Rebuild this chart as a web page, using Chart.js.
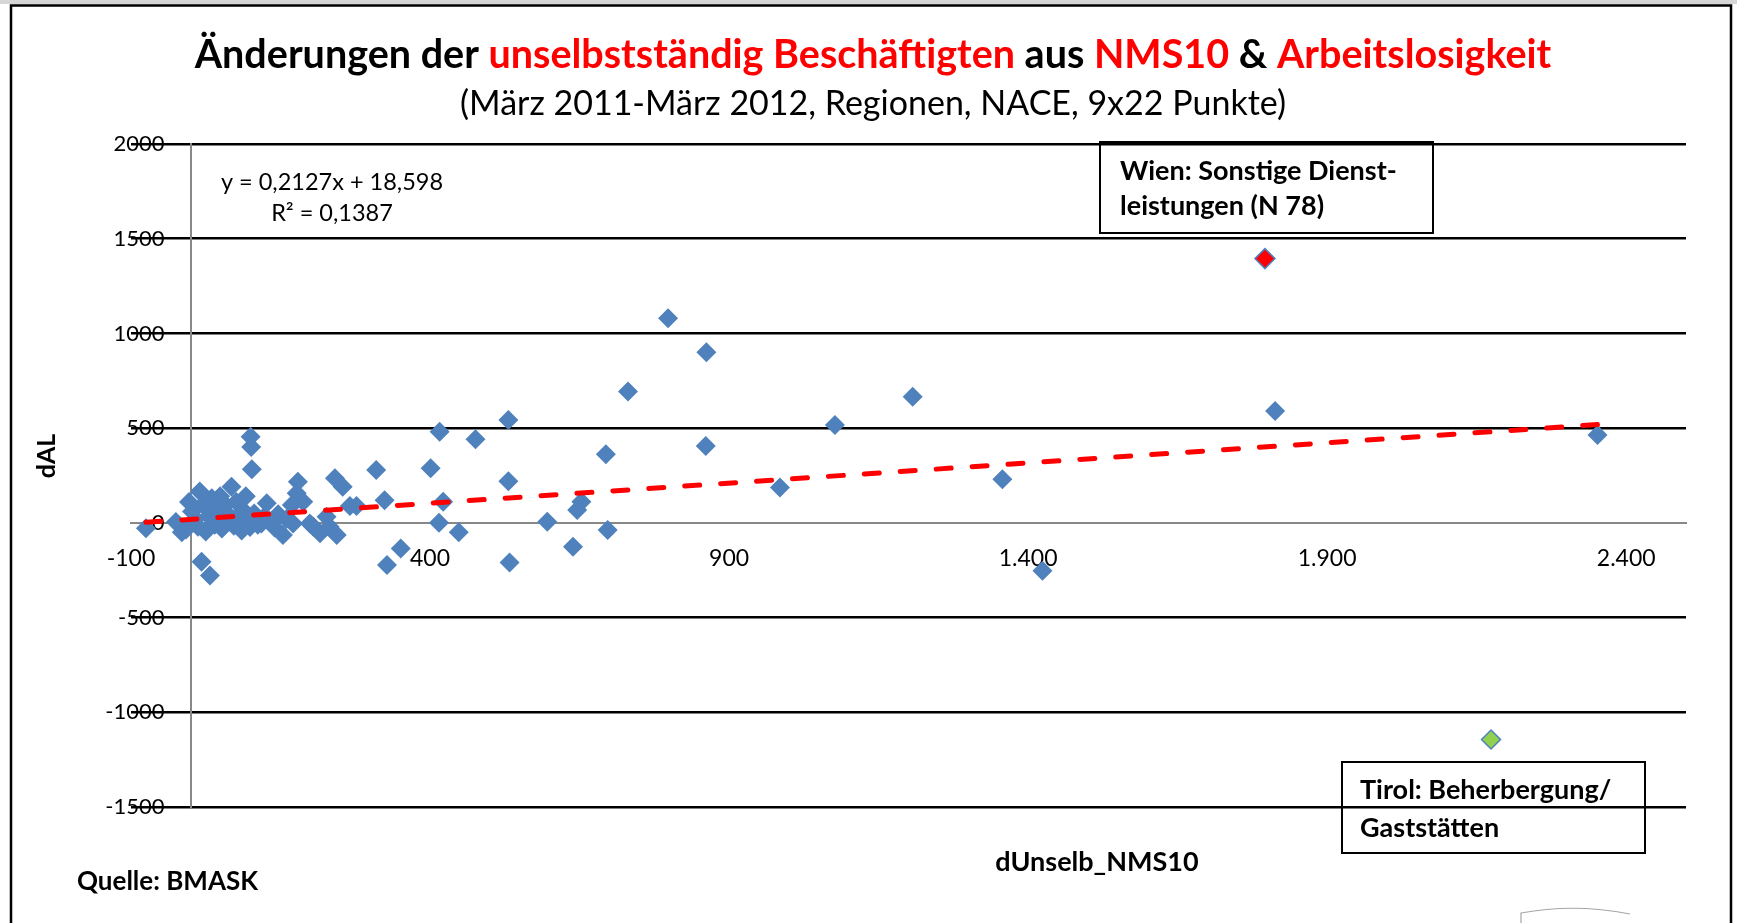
<!DOCTYPE html>
<html>
<head>
<meta charset="utf-8">
<script src="https://cdn.jsdelivr.net/npm/chart.js@4"></script>
<style>
    html, body { margin: 0; padding: 0; background: #fff; }
    #wrap { width: 1737px; height: 923px; }
</style>
</head>
<body>
<div id="wrap"><canvas id="scatter-chart"></canvas></div>
<script>
// dUnselb_NMS10 (x) and dAL (y) per region / NACE section
const dUnselb = [-75, -25, -15, -8, -3, 2, 8, 12, 15, 18, 20, 25, 30, 32, 35, 40, 45, 49, 52, 55,
    58, 62, 68, 72, 76, 80, 85, 88, 92, 95, 99, 100, 101, 102, 106, 112, 118, 122, 127, 132,
    140, 146, 154, 160, 169, 171, 177, 179, 188, 199, 205, 216, 227, 232, 241, 244, 254, 266, 277, 310,
    324, 328, 351, 401, 415, 416, 422, 448, 476, 531, 531, 533, 596, 639, 646, 653, 694, 697, 731, 798,
    861, 862, 985, 1077, 1207, 1357, 1424, 1813, 2352];
const dAL = [-28, 5, -50, -35, 110, 60, 20, -20, 165, -205, 95, -45, 35, -278, 130, -10, 70, 140, -30, 15,
    95, 45, 190, -15, 110, 25, -40, 65, 140, 5, -22, 455, 400, 283, 50, -10, -3, 30, 103, 10,
    -25, 45, -64, 20, 94, -3, 156, 217, 112, -3, -20, -55, 32, -20, 235, -64, 191, 89, 89, 279,
    120, -223, -135, 288, 0, 481, 111, -50, 441, 543, 219, -209, 6, -126, 68, 111, 362, -38, 693, 1080,
    406, 901, 187, 517, 666, 230, -253, 591, 464];

// highlighted points
const wienX = [1796];
const wienY = [1395];
const tirolX = [2174];
const tirolY = [-1144];

// linear trend as printed in the chart
const trendSlope = 0.2127;
const trendIntercept = 18.598;
const trendRange = [-75, 2352];

const xTicks = [-100, 400, 900, 1400, 1900, 2400];
const yTicks = [-1500, -1000, -500, 0, 500, 1000, 1500, 2000];

const RED = '#ff0000';
const BLUE = '#4f81bd';
const FONT = 'Lato, "Open Sans", sans-serif';

const toPoints = (xs, ys) => xs.map((x, i) => ({x: x, y: ys[i]}));

const decor = {
    id: 'decor',
    beforeDraw(chart) {
        const ctx = chart.ctx;
        ctx.save();
        ctx.fillStyle = '#fff';
        ctx.fillRect(0, 0, chart.width, chart.height);
        ctx.fillStyle = '#d6d6d6';
        ctx.fillRect(0, 0, chart.width, 4);
        ctx.strokeStyle = '#000';
        ctx.lineWidth = 2.5;
        ctx.beginPath();
        ctx.moveTo(11, chart.height);
        ctx.lineTo(11, 5.5);
        ctx.lineTo(1731, 5.5);
        ctx.lineTo(1731, chart.height);
        ctx.stroke();

        // stray pencil mark bottom right
        ctx.strokeStyle = '#a6a6a6';
        ctx.lineWidth = 1.2;
        ctx.beginPath();
        ctx.moveTo(1521, 923);
        ctx.lineTo(1521, 913);
        ctx.quadraticCurveTo(1575, 903, 1630, 914);
        ctx.stroke();
        ctx.restore();
    },
    afterDraw(chart) {
        const ctx = chart.ctx;
        ctx.save();

        // title in mixed colours
        const parts = [
            ['Änderungen der ', '#000'],
            ['unselbstständig Beschäftigten', RED],
            [' aus ', '#000'],
            ['NMS10', RED],
            [' & ', '#000'],
            ['Arbeitslosigkeit', RED]
        ];
        ctx.font = 'bold 39.5px ' + FONT;
        ctx.textBaseline = 'alphabetic';
        ctx.textAlign = 'left';
        const total = parts.reduce((s, p) => s + ctx.measureText(p[0]).width, 0);
        let x = 873 - total / 2;
        parts.forEach(p => {
            ctx.fillStyle = p[1];
            ctx.fillText(p[0], x, 68);
            x += ctx.measureText(p[0]).width;
        });

        ctx.fillStyle = '#000';
        ctx.textAlign = 'center';
        ctx.font = '34px ' + FONT;
        ctx.fillText('(März 2011-März 2012, Regionen, NACE, 9x22 Punkte)', 873, 115);

        // trend equation
        ctx.font = '23.5px ' + FONT;
        ctx.textBaseline = 'middle';
        ctx.fillText('y = 0,2127x + 18,598', 332, 182);
        ctx.fillText('R² = 0,1387', 332, 213);

        // axis titles
        ctx.font = 'bold 27px ' + FONT;
        ctx.fillText('dUnselb_NMS10', 1097, 862);
        ctx.save();
        ctx.translate(47, 456);
        ctx.rotate(-Math.PI / 2);
        ctx.font = 'bold 25px ' + FONT;
        ctx.fillText('dAL', 0, 0);
        ctx.restore();

        ctx.textAlign = 'left';
        ctx.font = 'bold 26px ' + FONT;
        ctx.fillText('Quelle: BMASK', 77, 882);

        // annotation boxes
        ctx.strokeStyle = '#000';
        ctx.lineWidth = 2;
        ctx.strokeRect(1100, 142, 333, 91);
        ctx.strokeRect(1342, 762, 303, 91);
        ctx.font = 'bold 27px ' + FONT;
        ctx.fillText('Wien: Sonstige Dienst-', 1120, 171);
        ctx.fillText('leistungen (N 78)', 1120, 206);
        ctx.fillText('Tirol: Beherbergung/', 1360, 790);
        ctx.fillText('Gaststätten', 1360, 828);

        ctx.restore();
    }
};

const scatterChart = document.getElementById('scatter-chart');

new Chart(scatterChart, {
    type: 'scatter',
    data: {
        datasets: [{
            type: 'line',
            label: 'Trend',
            data: trendRange.map(x => ({x: x, y: trendSlope * x + trendIntercept})),
            borderColor: RED,
            borderWidth: 5,
            borderDash: [15, 21],
            borderCapStyle: 'round',
            pointRadius: 0,
            fill: false
        }, {
            label: 'Wien',
            data: toPoints(wienX, wienY),
            pointStyle: 'rectRot',
            pointRadius: 10,
            backgroundColor: RED,
            borderColor: BLUE,
            borderWidth: 1.5
        }, {
            label: 'Tirol',
            data: toPoints(tirolX, tirolY),
            pointStyle: 'rectRot',
            pointRadius: 9.5,
            backgroundColor: '#92d050',
            borderColor: BLUE,
            borderWidth: 1.5
        }, {
            label: 'dAL',
            data: toPoints(dUnselb, dAL),
            pointStyle: 'rectRot',
            pointRadius: 10,
            backgroundColor: BLUE,
            borderColor: BLUE,
            borderWidth: 0
        }]
    },
    options: {
        responsive: true,
        maintainAspectRatio: false,
        animation: false,
        layout: {
            padding: {left: 131, top: 144, right: 51, bottom: 116}
        },
        plugins: {
            legend: {display: false},
            title: {display: false},
            tooltip: {enabled: false}
        },
        scales: {
            x: {
                type: 'linear',
                position: {y: 0},
                min: -100,
                max: 2500,
                afterBuildTicks: scale => {
                    scale.ticks = xTicks.map(v => ({value: v}));
                },
                grid: {display: false, drawTicks: false},
                border: {display: true, color: '#888', width: 2},
                ticks: {
                    autoSkip: false,
                    maxRotation: 0,
                    padding: 22,
                    color: '#000',
                    font: {family: FONT, size: 23},
                    callback: v => v.toLocaleString('de-DE')
                }
            },
            // value axis line at x = 0 with the black gridlines
            y: {
                type: 'linear',
                position: {x: 0},
                min: -1500,
                max: 2000,
                afterBuildTicks: scale => {
                    scale.ticks = yTicks.map(v => ({value: v}));
                },
                grid: {
                    drawTicks: false,
                    color: ctx => ctx.tick && ctx.tick.value === 0 ? 'rgba(0,0,0,0)' : '#000',
                    lineWidth: 2.5
                },
                border: {display: true, color: '#888', width: 2},
                ticks: {display: false}
            },
            // tick labels sit a little left of the axis line
            yLabels: {
                type: 'linear',
                axis: 'y',
                position: {x: -44},
                min: -1500,
                max: 2000,
                afterBuildTicks: scale => {
                    scale.ticks = yTicks.map(v => ({value: v}));
                },
                grid: {display: false, drawTicks: false},
                border: {display: false},
                ticks: {
                    color: '#000',
                    font: {family: FONT, size: 22},
                    callback: v => String(v)
                }
            }
        }
    },
    plugins: [decor]
});
</script>
</body>
</html>
